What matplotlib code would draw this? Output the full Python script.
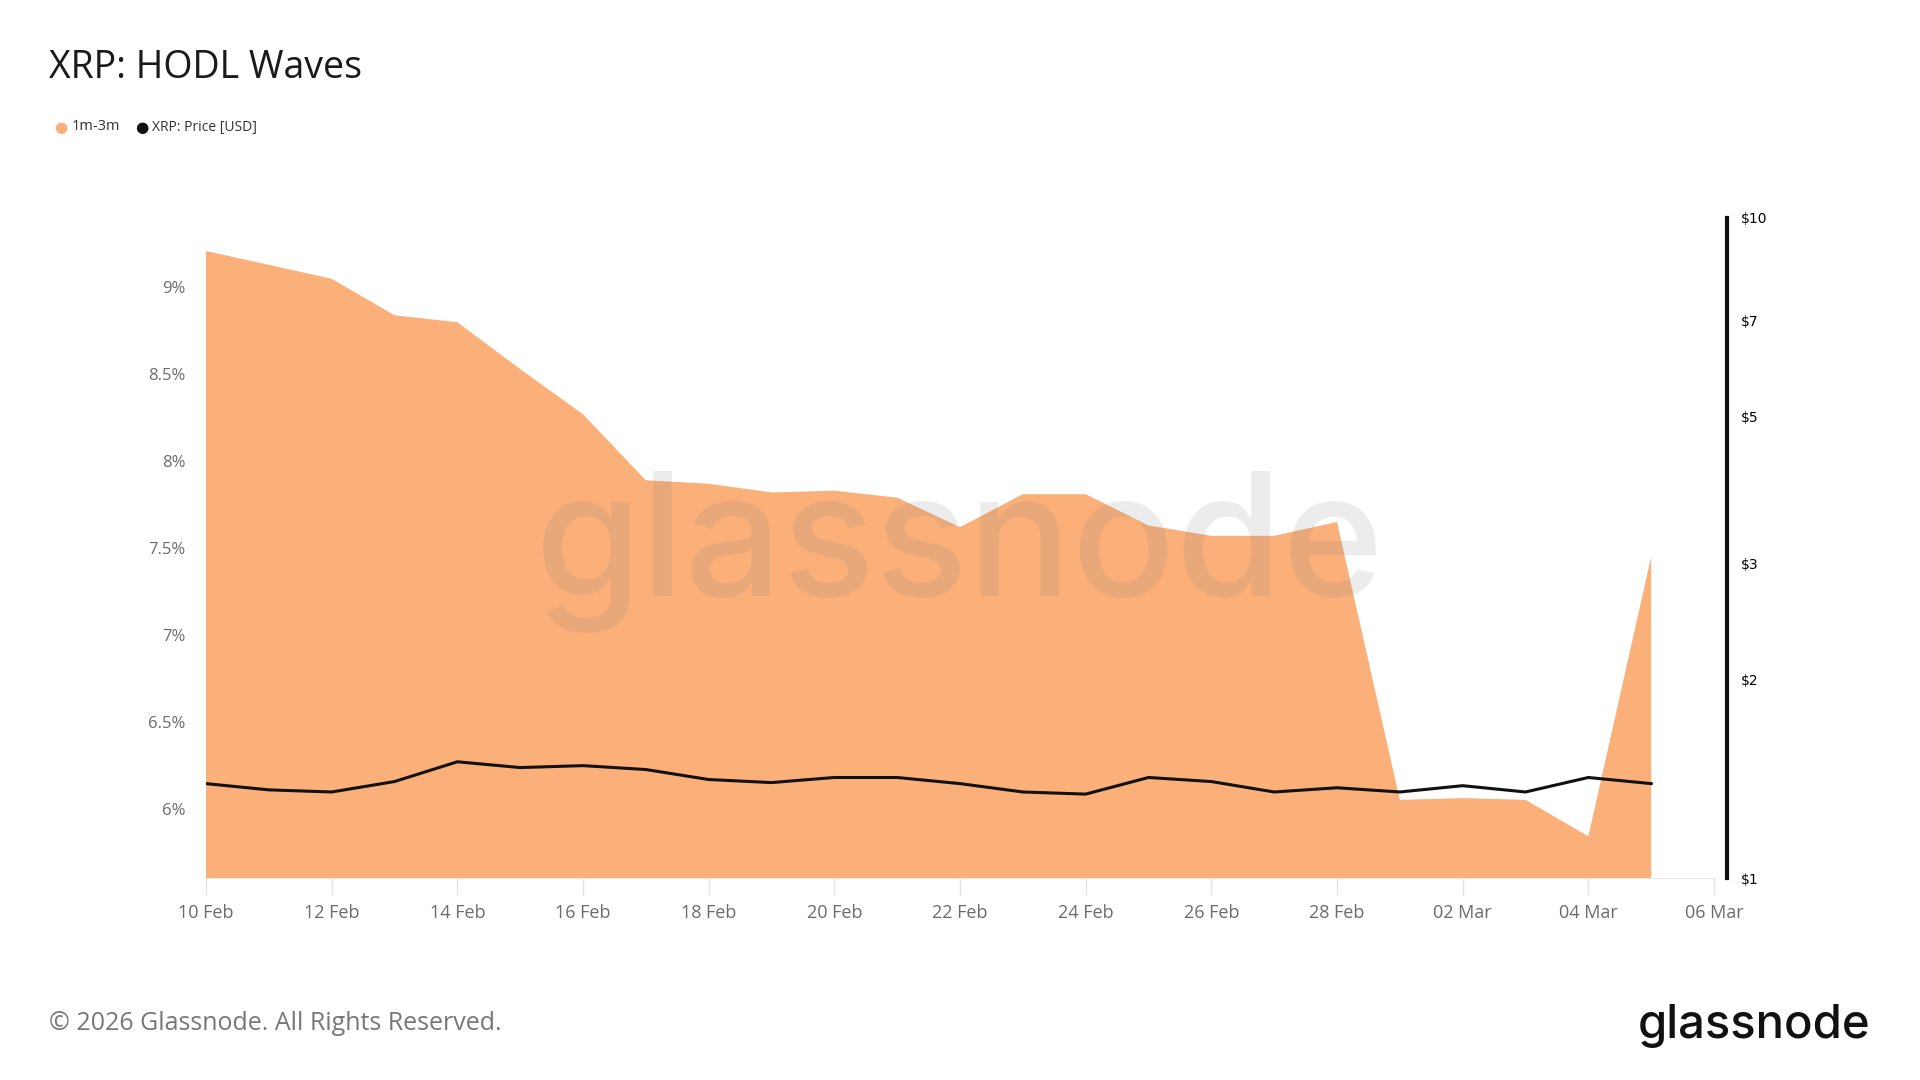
import matplotlib
matplotlib.use("Agg")
import matplotlib.pyplot as plt
import matplotlib.dates as mdates
from matplotlib.ticker import FixedLocator, NullLocator
import numpy as np
import datetime as dt

# data (one point per day, 10 Feb -> 05 Mar 2026)
dates = [dt.date(2026, 2, 10) + dt.timedelta(days=i) for i in range(24)]
hodl_1m_3m = [9.21, 9.13, 9.05, 8.84, 8.80, 8.53, 8.27, 7.89, 7.87, 7.82,
              7.83, 7.79, 7.62, 7.81, 7.81, 7.63, 7.57, 7.57, 7.65, 6.05,
              6.06, 6.05, 5.84, 7.45]
xrp_price = [1.39, 1.36, 1.35, 1.40, 1.50, 1.47, 1.48, 1.46, 1.41, 1.395,
             1.42, 1.42, 1.39, 1.35, 1.34, 1.42, 1.40, 1.35, 1.37, 1.35,
             1.38, 1.35, 1.42, 1.39]

left_ticks = [6, 6.5, 7, 7.5, 8, 8.5, 9]
left_labels = ["6%", "6.5%", "7%", "7.5%", "8%", "8.5%", "9%"]
right_ticks = [1, 2, 3, 5, 7, 10]
right_labels = ["$1", "$2", "$3", "$5", "$7", "$10"]
x_tick_dates = [dt.date(2026, 2, 10) + dt.timedelta(days=2 * i) for i in range(13)]
x_tick_labels = [d.strftime("%d %b") for d in x_tick_dates]

orange = "#fbb07a"
gray_txt = "#6b6b6b"
font = ["Open Sans", "DejaVu Sans"]

fig = plt.figure(figsize=(19.2, 10.8), dpi=100)
fig.patch.set_facecolor("white")
ax = fig.add_axes([206 / 1920, 1 - 878 / 1080, 1508 / 1920, 660 / 1080])

x = mdates.date2num(dates)
ax.fill_between(x, 0, hodl_1m_3m, color=orange, lw=0, zorder=1)
ax.set_ylim(5.6, 9.4)
ax.set_xlim(mdates.date2num(dt.date(2026, 2, 10)), mdates.date2num(dt.date(2026, 3, 6)))

ax.yaxis.set_major_locator(FixedLocator(left_ticks))
ax.set_yticklabels(left_labels, fontsize=12, color=gray_txt, family=font)
ax.tick_params(axis="y", length=0, pad=15)
ax.set_xticks(mdates.date2num(x_tick_dates))
ax.set_xticklabels(x_tick_labels, fontsize=13, color=gray_txt, family=font)
ax.tick_params(axis="x", length=12, color="#e3e3e3", width=1, pad=7)
for s in ["top", "left", "right"]:
    ax.spines[s].set_visible(False)
ax.spines["bottom"].set_color("#e6e6e6")
ax.patch.set_alpha(0)

# price on log axis at right
ax2 = ax.twinx()
ax2.plot(x, xrp_price, color="#111111", lw=2.2, zorder=3)
ax2.set_yscale("log")
ax2.set_ylim(1, 10)
ax2.yaxis.set_major_locator(FixedLocator(right_ticks))
ax2.yaxis.set_minor_locator(NullLocator())
ax2.set_yticklabels(right_labels, fontsize=11, color="#777777", family=font)
ax2.tick_params(axis="y", length=0, pad=10)
for s in ["top", "left", "bottom"]:
    ax2.spines[s].set_visible(False)
ax2.spines["right"].set_position(("outward", 9))
ax2.spines["right"].set_linewidth(3)
ax2.spines["right"].set_color("#111111")

# watermark
fig.text(0.5 * (533 + 1386) / 1920, 1 - 552 / 1080, "glassnode", fontsize=124,
         color="#808080", alpha=0.15, ha="center", va="center",
         family=["Inter", "DejaVu Sans"], fontweight="medium", zorder=10)

# title and legend
fig.text(49 / 1920, 1 - 68 / 1080, "XRP: HODL Waves", fontsize=27, color="#1a1a1a",
         ha="left", va="center", family=font)
fig.text(61 / 1920, 1 - 127 / 1080, "\u25CF", fontsize=11, color=orange, ha="center", va="center")
fig.text(72 / 1920, 1 - 127 / 1080, "1m-3m", fontsize=10.5, color="#333333", ha="left",
         va="center", family=font)
fig.text(142 / 1920, 1 - 127 / 1080, "\u25CF", fontsize=11, color="#111111", ha="center", va="center")
fig.text(152 / 1920, 1 - 127 / 1080, "XRP: Price [USD]", fontsize=10, color="#333333",
         ha="left", va="center", family=font)

# footer
fig.text(49 / 1920, 1 - 1024 / 1080, "\u00A9 2026 Glassnode. All Rights Reserved.",
         fontsize=18, color="#777777", ha="left", va="center", family=font)
fig.text(1870 / 1920, 1 - 1026 / 1080, "glassnode", fontsize=34, color="#111111",
         ha="right", va="center", family=["Inter", "DejaVu Sans"], fontweight="medium")

fig.savefig("out.png", dpi=100, facecolor="white")
